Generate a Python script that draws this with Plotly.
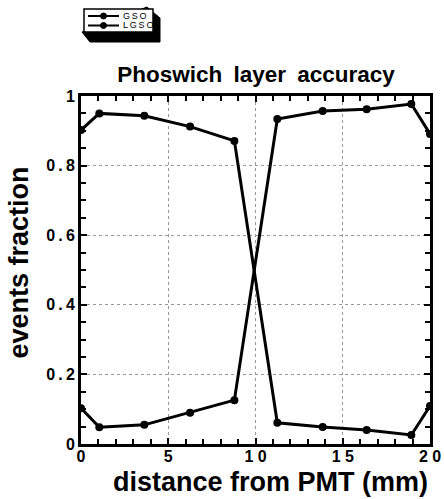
import plotly.graph_objects as go

# Data
x_pos = [0, 1.05, 3.63, 6.25, 8.79, 11.25, 13.85, 16.37, 18.93, 20]
gso = [0.902, 0.950, 0.943, 0.912, 0.871, 0.061, 0.049, 0.040, 0.026, 0.109]
lgso = [0.103, 0.048, 0.055, 0.090, 0.126, 0.934, 0.957, 0.962, 0.977, 0.891]
series_names = ["GSO", "LGSO"]
x_tickvals = [0, 5, 10, 15, 20]
x_ticktext = ["0", "5", "1 0", "1 5", "2 0"]
y_tickvals = [0, 0.2, 0.4, 0.6, 0.8, 1]
y_ticktext = ["0", "0.2", "0.4", "0.6", "0.8", "1"]

W, H = 444, 499
L, R, T, B = 81, 14, 96, 55
pw, ph = W - L - R, H - T - B

def px(xp):
    return (xp - L) / pw

def py(yp):
    return (H - B - yp) / ph

FONT = "Liberation Sans"
TS = "\u2009"

fig = go.Figure()
for name, vals in zip(series_names, [gso, lgso]):
    fig.add_trace(go.Scatter(x=x_pos, y=vals, name=name, mode="lines+markers",
                             line=dict(color="black", width=3),
                             marker=dict(color="black", size=8),
                             showlegend=False))

axis_common = dict(
    showline=True, linecolor="black", linewidth=3, mirror="ticks",
    ticks="inside", ticklen=6, tickwidth=2, tickcolor="black",
    showgrid=True, gridcolor="#999", griddash="dot", gridwidth=1,
    zeroline=False, automargin=False,
    tickfont=dict(family=FONT, size=16, color="black", weight="bold"),
)

fig.update_xaxes(range=[0, 20], tickvals=x_tickvals, ticktext=x_ticktext,
                 ticklabelstandoff=-4,
                 minor=dict(dtick=1, ticks="inside", ticklen=5, tickwidth=2,
                            tickcolor="black", showgrid=False),
                 title=dict(text="&nbsp;&nbsp;&nbsp;&nbsp;distance from PMT (mm)", standoff=8,
                            font=dict(family=FONT, size=27, color="black", weight="bold")),
                 **axis_common)
fig.update_yaxes(range=[0, 1], tickvals=y_tickvals,
                 ticktext=[TS.join(t) for t in y_ticktext],
                 minor=dict(dtick=0.05, ticks="inside", ticklen=5, tickwidth=2,
                            tickcolor="black", showgrid=False),
                 title=dict(text="&nbsp;&nbsp;events fraction", standoff=10,
                            font=dict(family=FONT, size=27, color="black", weight="bold")),
                 **axis_common)

# hand-drawn style legend box with 3D shadow
fig.add_shape(type="path", xref="paper", yref="paper",
              path=(f"M {px(147)} {py(7)} L {px(160)} {py(18)} L {px(160)} {py(42)} "
                    f"L {px(90)} {py(42)} L {px(82)} {py(32)} Z"),
              fillcolor="black", line=dict(color="black", width=1))
fig.add_shape(type="rect", xref="paper", yref="paper",
              x0=px(84), x1=px(153), y0=py(9), y1=py(32),
              fillcolor="white", line=dict(color="black", width=1.5))
for i, name in enumerate(series_names):
    yl = 16 + i * 9.5
    fig.add_shape(type="line", xref="paper", yref="paper",
                  x0=px(88), x1=px(119), y0=py(yl), y1=py(yl),
                  line=dict(color="black", width=2))
    fig.add_shape(type="circle", xref="paper", yref="paper",
                  x0=px(100.5), x1=px(106.5), y0=py(yl - 3), y1=py(yl + 3),
                  fillcolor="black", line=dict(color="black", width=1))
    fig.add_annotation(xref="paper", yref="paper", x=px(121), y=py(yl),
                       xanchor="left", yanchor="middle", showarrow=False,
                       text=TS.join(name),
                       font=dict(family=FONT, size=9, color="black"))

fig.update_layout(
    width=W, height=H,
    margin=dict(l=L, r=R, t=T, b=B, autoexpand=False),
    paper_bgcolor="white", plot_bgcolor="white",
    title=dict(text="Phoswich&#8194;layer&#8194;accuracy", x=256 / W,
               xanchor="center", y=1 - 74 / H, yanchor="middle",
               font=dict(family=FONT, size=22.5, color="black", weight="bold")),
    showlegend=False,
)

fig.write_html("out.html", config={"displayModeBar": False},
               post_script="document.body.style.margin='0';document.body.style.overflow='hidden';")
